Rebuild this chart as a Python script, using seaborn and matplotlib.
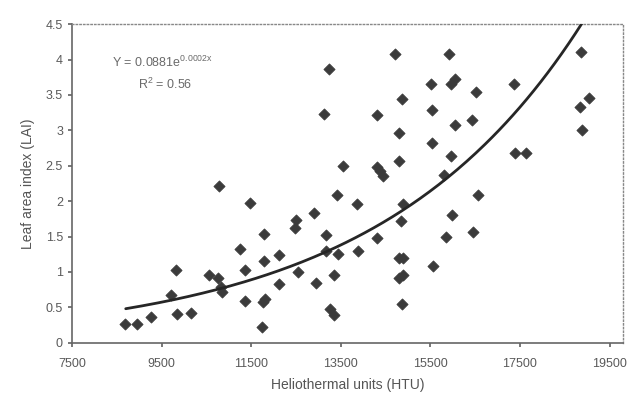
"""Leaf area index vs heliothermal units with exponential trend."""

import matplotlib

matplotlib.use("Agg")
import matplotlib.pyplot as plt
import numpy as np
import pandas as pd
import seaborn as sns

HTU = [
    8680, 8960, 9260, 9820, 9700, 9840, 10150, 10560, 10750, 10820,
    10860, 10790, 11470, 11250, 11370, 11370, 11790, 11790, 11760, 11820,
    11750, 12130, 12130, 12500, 12480, 12550, 12910, 12950, 13240, 13130,
    13560, 13410, 13170, 13180, 13430, 13340, 13250, 13350, 13860, 13880,
    14300, 14370, 14450, 14310, 14310, 14710, 14860, 14810, 14800, 14880,
    14850, 14800, 14880, 14800, 14900, 14870, 15520, 15530, 15540, 15920,
    15960, 16060, 16520, 16060, 16420, 15960, 15810, 16560, 15980, 15850,
    16460, 15570, 17360, 17380, 17640, 18870, 18850, 19050, 18890,
]
LAI = [
    0.27, 0.27, 0.37, 1.03, 0.67, 0.41, 0.42, 0.95, 0.91, 0.79,
    0.72, 2.21, 1.97, 1.32, 1.02, 0.59, 1.54, 1.16, 0.58, 0.62,
    0.22, 1.24, 0.83, 1.74, 1.62, 1.00, 1.83, 0.84, 3.86, 3.23,
    2.49, 2.09, 1.52, 1.30, 1.25, 0.95, 0.47, 0.39, 1.96, 1.29,
    2.48, 2.43, 2.36, 1.48, 3.22, 4.08, 3.44, 2.96, 2.57, 1.96,
    1.72, 1.19, 1.19, 0.91, 0.95, 0.55, 3.65, 3.29, 2.82, 4.08,
    3.65, 3.72, 3.54, 3.08, 3.15, 2.64, 2.37, 2.09, 1.80, 1.50,
    1.57, 1.09, 3.66, 2.68, 2.68, 4.11, 3.33, 3.45, 3.00,
]

# trend line as drawn (exponential)
TREND_A = 0.0708
TREND_B = 0.00022
TREND_X = [8700, 19000]

X_TICKS = [7500, 9500, 11500, 13500, 15500, 17500, 19500]
Y_TICKS = [0, 0.5, 1, 1.5, 2, 2.5, 3, 3.5, 4, 4.5]
Y_TICK_LABELS = ["0", "0.5", "1", "1.5", "2", "2.5", "3", "3.5", "4", "4.5"]

sns.set_theme(style="white")
plt.rcParams["font.family"] = ["Liberation Sans", "DejaVu Sans"]
plt.rcParams["mathtext.default"] = "regular"

frame = pd.DataFrame({"htu": HTU, "lai": LAI})

fig = plt.figure(figsize=(6.28, 3.96), dpi=100)
ax = fig.add_axes([0.1146, 0.1346, 0.8774, 0.8044])

sns.scatterplot(
    data=frame, x="htu", y="lai", marker="D", s=32,
    color="#3b3b3b", edgecolor="#3b3b3b", linewidth=0.6, ax=ax, zorder=3,
)

xs = np.linspace(TREND_X[0], TREND_X[1], 200)
ax.plot(xs, TREND_A * np.exp(TREND_B * xs), color="#262626", linewidth=2.0, zorder=4)

ax.set_xlim(7500, 19800)
ax.set_ylim(0, 4.5)
ax.set_xticks(X_TICKS)
ax.set_yticks(Y_TICKS)
ax.set_yticklabels(Y_TICK_LABELS)
ax.tick_params(axis="both", colors="#666666", labelsize=9, length=3, direction="out",
               left=True, bottom=True, labelcolor="#5a5a5a")
ax.tick_params(axis="x", pad=8)

for side in ["left", "bottom"]:
    ax.spines[side].set_color("#666666")
    ax.spines[side].set_linewidth(1.2)
for side in ["top", "right"]:
    ax.spines[side].set_color("#888888")
    ax.spines[side].set_linestyle(":")
    ax.spines[side].set_linewidth(1.0)

ax.set_xlabel("Heliothermal units (HTU)", color="#555555", fontsize=10, labelpad=6)
ax.set_ylabel("Leaf area index (LAI)", color="#555555", fontsize=10, labelpad=8)

ax.text(0.072, 0.865, r"Y = 0.0881e$^{0.0002x}$", transform=ax.transAxes,
        fontsize=9, color="#6a6a6a")
ax.text(0.12, 0.795, r"R$^2$ = 0.56", transform=ax.transAxes,
        fontsize=9, color="#6a6a6a")

fig.savefig("out.png", dpi=100)
